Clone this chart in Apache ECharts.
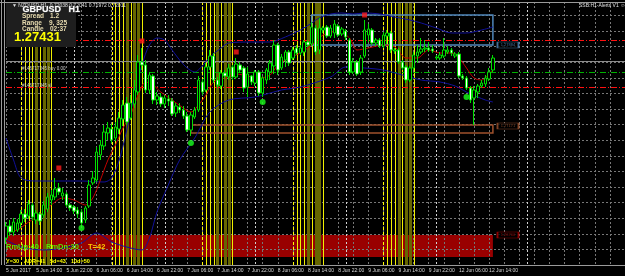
<!DOCTYPE html>
<html><head><meta charset="utf-8">
<script src="https://cdn.jsdelivr.net/npm/echarts@6/dist/echarts.min.js"></script>
<style>html,body{margin:0;padding:0;background:#000;}#c{width:625px;height:276px;}</style>
</head><body><div id="c"></div>
<script>
// ---- data (prices in points, 1 point = 0.00001) ----
const tickLabels = ['5 Jun 2017','5 Jun 14:00','5 Jun 22:00','6 Jun 06:00','6 Jun 14:00','6 Jun 22:00','7 Jun 06:00','7 Jun 14:00','7 Jun 22:00','8 Jun 06:00','8 Jun 14:00','8 Jun 22:00','9 Jun 06:00','9 Jun 14:00','9 Jun 22:00','12 Jun 06:00','12 Jun 14:00'];
// [open, close, low, high]
const candles = [
[71115,71175,71085,71195],[71175,71145,71125,71205],[71145,71195,71125,71215],[71155,71190,71145,71210],
[71190,71235,71165,71255],[71235,71215,71195,71260],[71225,71285,71210,71305],[71280,71220,71200,71290],
[71205,71240,71185,71255],[71235,71200,71180,71245],[71230,71280,71215,71300],[71260,71320,71245,71340],
[71305,71330,71280,71355],[71320,71360,71305,71415],[71365,71345,71330,71390],[71325,71340,71305,71365],
[71335,71280,71270,71345],[71280,71265,71250,71290],[71270,71250,71235,71280],[71255,71235,71215,71270],
[71245,71190,71175,71260],[71205,71265,71190,71275],[71275,71380,71265,71405],[71390,71415,71380,71450],
[71405,71545,71395,71570],[71530,71580,71505,71605],[71575,71645,71555,71680],[71640,71665,71605,71695],
[71660,71605,71590,71685],[71615,71670,71600,71695],[71660,71715,71635,71745],[71710,71780,71675,71805],
[71790,71695,71680,71820],[71715,71790,71705,71830],[71785,71855,71765,71905],[71845,71995,71830,72030],
[71995,71980,71955,72065],[71980,71855,71840,72005],[71855,71930,71835,71945],[71925,71805,71785,71935],
[71805,71825,71780,71845],[71820,71785,71770,71840],[71785,71815,71765,71830],[71810,71800,71775,71830],
[71800,71735,71725,71815],[71740,71775,71720,71790],[71770,71755,71740,71790],[71755,71725,71710,71775],
[71725,71655,71645,71745],[71655,71730,71625,71745],[71720,71755,71710,71770],[71755,71905,71745,71925],
[71895,71845,71830,71910],[71855,71970,71845,71990],[71970,72025,71955,72055],[72025,71905,71890,72040],
[71905,71880,71865,71920],[71875,71940,71860,71955],[71940,71925,71910,71955],[71920,71965,71905,71985],
[71970,71920,71905,71980],[71920,71985,71910,72015],[71980,71955,71940,71995],[71965,71865,71845,71975],
[71870,71935,71820,71970],[71925,71895,71880,71930],[71890,71945,71875,71955],[71945,71840,71825,71955],
[71840,71915,71820,71925],[71905,71955,71885,71965],[71945,71990,71905,72005],[71975,72080,71935,72105],
[72080,71955,71930,72090],[71965,72020,71955,72035],[72005,72045,71970,72055],[72045,71990,71975,72055],
[72015,72055,72005,72070],[72065,72040,72030,72080],[72040,72065,72030,72080],[72045,72095,72025,72105],
[72095,72080,72070,72105],[72085,72170,72075,72195],[72165,72045,72030,72180],[72055,72165,72035,72215],
[72155,72165,72140,72175],[72170,72125,72115,72180],[72125,72165,72115,72180],[72140,72185,72115,72205],
[72175,72130,72120,72185],[72135,72160,72125,72170],[72150,72120,72105,72160],[72105,71945,71930,72115],
[71945,71995,71935,72015],[71995,71935,71925,72005],[71945,72015,71930,72030],[72025,72155,72015,72205],
[72130,72160,72095,72185],[72155,72090,72080,72165],[72090,72105,72075,72115],[72105,72075,72065,72115],
[72075,72130,72065,72145],[72125,72140,72085,72155],[72140,72055,72040,72150],[72050,72055,72035,72065],
[72055,71995,71985,72065],[71995,71965,71955,72005],[71970,71905,71890,71980],[71905,71965,71895,71975],
[71965,72030,71955,72045],[72025,72045,71990,72080],[72045,72060,72035,72115],[72060,72065,72045,72105],
[72065,72055,72045,72095],[72060,72050,72040,72080],[72015,72020,72005,72030],[72015,72030,72005,72045],
[72025,72055,72015,72115],[72045,72055,72035,72075],[72055,72040,72025,72065],[72025,72035,72015,72045],
[72035,71925,71915,72045],[71925,71915,71905,71935],[71915,71865,71855,71925],[71865,71805,71790,71875],
[71815,71855,71680,71875],[71845,71875,71815,71885],[71875,71890,71865,71905],[71885,71915,71870,71930],
[71910,71945,71900,71965],[71955,72015,71945,72030]
];
const upperBand = [[0,71615],[2,71505],[4,71415],[8,71400],[14,71400],[20,71400],[26,71395],[28,71415],[30,71505],[32,71655],[34,71830],[36,71980],[38,72080],[40,72115],[42,72105],[44,72055],[46,72005],[48,71965],[50,71945],[52,71975],[54,72020],[57,72065],[59,72090],[65,72095],[70,72095],[74,72120],[78,72155],[81,72190],[83,72215],[86,72235],[89,72240],[92,72235],[95,72240],[99,72235],[103,72220],[107,72205],[110,72190],[114,72165],[118,72140],[122,72140],[126,72155],[129,72170]];
const lowerBand = [[0,71105],[4,71070],[10,71055],[15,71065],[20,71090],[24,71140],[28,71095],[32,71070],[36,71055],[38,71115],[40,71245],[43,71380],[46,71505],[50,71615],[54,71745],[59,71805],[66,71820],[73,71855],[78,71870],[86,71920],[90,71970],[95,71965],[100,71955],[105,71930],[110,71905],[115,71895],[119,71875],[122,71845],[125,71820],[127,71805],[129,71795]];
const maLine = [[0,71145],[3,71155],[6,71195],[9,71230],[12,71280],[15,71315],[18,71305],[21,71280],[23,71315],[25,71405],[27,71505],[29,71580],[31,71665],[33,71730],[35,71830],[37,71895],[39,71880],[41,71845],[44,71805],[47,71765],[49,71745],[51,71780],[53,71830],[55,71895],[58,71915],[61,71935],[64,71925],[67,71915],[70,71930],[72,71980],[75,72015],[78,72040],[81,72080],[84,72130],[88,72150],[91,72115],[93,72055],[96,72065],[100,72080],[103,72070],[106,72015],[109,72015],[112,72055],[115,72040],[118,72040],[120,72015],[122,71965],[124,71915],[126,71905],[128,71935],[129,71955]];
const redDots = [[14,71465],[36,72100],[61,72045],[95,72230]];
const greenDots = [[20,71165],[49,71590],[68,71795],[122,71820]];
// horizontal levels: [price, kind]
const levels = [[72000,'gray'],[72105,'red'],[71945,'green'],[71870,'red']];
const blueBox = {from:81, to:129, top:72230, bottom:72080};
const brownBox = {from:49, to:129, top:71680, bottom:71640};
const redZone = {from:0, to:129, top:71130, bottom:71020};
const daySeparators = [18,42,66,90,114,138];
const yellowBars = [4,5,6,7,8,9,10,11,12, 28,29,30,31,32,33,34,35,36, 52,53,54,55,56,57,58,59,60, 76,77,78,79,80,81,82,83,84, 100,101,102,103,104,105,106,107,108];
const yellowPattern = 'dyyyoyooy';

const N = 165;
const cats = Array.from({length:N}, (_, i) => 'b' + i);
const FF = '"Liberation Sans", Arial, sans-serif';

const vLines = daySeparators.map(d => [d, 'sep']).concat(yellowBars.map((b, k) => [b, yellowPattern[k % 9]]));
const hStyles = {
  gray: {stroke:'#8c8c8c', lineWidth:1},
  red: {stroke:'#ff1010', lineWidth:1, lineDash:[6,2,1,2]},
  green: {stroke:'#00b000', lineWidth:1, lineDash:[6,2,1,2]}
};

function vLineRender(params, api) {
  const cs = params.coordSys;
  const xr = Math.round(api.coord([api.value(0), 0])[0]);
  const kind = vLines[params.dataIndex][1];
  if (kind === 'sep') {
    return {type:'line', shape:{x1:xr + 0.5, y1:cs.y, x2:xr + 0.5, y2:cs.y + cs.height},
            style:{stroke:'#d0d0d0', lineWidth:1, lineDash:[2,2]}};
  }
  if (kind === 'd') {
    return {type:'line', shape:{x1:xr + 0.5, y1:cs.y, x2:xr + 0.5, y2:cs.y + cs.height},
            style:{stroke:'#ffff00', lineWidth:1, lineDash:[3,2]}};
  }
  if (kind === 'o') {
    return {type:'rect', shape:{x:xr - 1, y:cs.y, width:3, height:cs.height}, style:{fill:'#666600'}};
  }
  return {type:'rect', shape:{x:xr, y:cs.y, width:1, height:cs.height}, style:{fill:'#f0f000'}};
}
function hLineRender(params, api) {
  const cs = params.coordSys;
  const y = Math.round(api.coord([0, api.value(1)])[1]) + 0.5;
  const kind = levels[params.dataIndex][1];
  return {type:'line', shape:{x1:cs.x, y1:y, x2:cs.x + cs.width, y2:y}, style:hStyles[kind]};
}

const chart = echarts.init(document.getElementById('c'), null, {renderer:'canvas'});
chart.setOption({
  animation: false,
  backgroundColor: '#000',
  grid: {left: 6, right: 0, top: 2, bottom: 11, show: false},
  xAxis: {
    type: 'category', data: cats, boundaryGap: false, z: 2,
    axisLine: {show: true, lineStyle: {color: '#9a9a9a', width: 1}},
    axisTick: {show: false},
    axisLabel: {interval: 7, align: 'left', margin: 3, color: '#d8d8d8', fontSize: 5, fontFamily: FF,
      formatter: (v, i) => tickLabels[i / 8] || ''},
    splitLine: {show: true, interval: 3, lineStyle: {color: '#777', width: 1, type: [2, 2]}}
  },
  yAxis: {
    type: 'value', min: 70980, max: 72295, interval: 78, z: 2,
    axisLine: {show: false}, axisTick: {show: false}, axisLabel: {show: false},
    splitLine: {show: true, lineStyle: {color: '#777', width: 1, type: [2, 2]}}
  },
  series: [
    {type: 'line', data: [], silent: true,
     markArea: {silent: true, z: 1, itemStyle: {color: '#990000'},
       data: [[{coord: [redZone.from, redZone.top]}, {coord: [redZone.to, redZone.bottom]}]]}},
    {type: 'custom', z: 3, silent: true, data: vLines.map(v => [v[0], 0]), renderItem: vLineRender,
     encode: {x: 0, y: 1}},
    {type: 'line', data: [], silent: true,
     markArea: {silent: true, z: 4, itemStyle: {color: 'rgba(0,0,0,0)', borderColor: '#4f86ba', borderWidth: 1.5},
       data: [[{coord: [blueBox.from, blueBox.top]}, {coord: [blueBox.to, blueBox.bottom]}]]}},
    {type: 'line', data: [], silent: true,
     markArea: {silent: true, z: 4, itemStyle: {color: 'rgba(0,0,0,0)', borderColor: '#a0522d', borderWidth: 1.5},
       data: [[{coord: [brownBox.from, brownBox.top]}, {coord: [brownBox.to, brownBox.bottom]}]]}},
    {type: 'custom', z: 4, silent: true, data: levels.map(l => [0, l[0]]), renderItem: hLineRender,
     encode: {x: 0, y: 1}},
    {type: 'line', data: upperBand, smooth: 0.3, symbol: 'none', z: 5, silent: true, lineStyle: {color: '#10109a', width: 1}},
    {type: 'line', data: lowerBand, smooth: 0.3, symbol: 'none', z: 5, silent: true, lineStyle: {color: '#10109a', width: 1}},
    {type: 'line', data: maLine, smooth: 0.3, symbol: 'none', z: 5, silent: true, lineStyle: {color: '#c40000', width: 1}},
    {type: 'candlestick', data: candles, z: 6, barWidth: 3,
     itemStyle: {color: '#000000', color0: '#ffffff', borderColor: '#00e000', borderColor0: '#00e000', borderWidth: 1}},
    {type: 'scatter', data: redDots, z: 7, symbol: 'rect', symbolSize: 5, itemStyle: {color: '#ff1a1a'}},
    {type: 'scatter', data: greenDots, z: 7, symbol: 'circle', symbolSize: 6, itemStyle: {color: '#19ff19'}},
    {type: 'scatter', z: 8, silent: true, symbol: 'rect', symbolSize: [21, 6],
     data: [
       {value: [133, blueBox.bottom], itemStyle: {color: '#000', borderColor: '#4f86ba', borderWidth: 1},
        label: {show: true, position: 'inside', formatter: '1.27884', color: '#4f86ba', fontSize: 4, fontFamily: FF}},
       {value: [133, brownBox.top - 5], itemStyle: {color: '#000', borderColor: '#a0522d', borderWidth: 1},
        label: {show: true, position: 'inside', formatter: '1.27171', color: '#a0522d', fontSize: 4, fontFamily: FF}},
       {value: [133, redZone.top], itemStyle: {color: '#000', borderColor: '#b00000', borderWidth: 1},
        label: {show: true, position: 'inside', formatter: '1.26700', color: '#b00000', fontSize: 4, fontFamily: FF}}
     ]}
  ],
  graphic: [
    {type: 'line', z: 9, shape: {x1: 1.5, y1: 0, x2: 1.5, y2: 265}, style: {stroke: '#9a9a9a', lineWidth: 1}},
    {type: 'line', z: 9, shape: {x1: 4.5, y1: 0, x2: 4.5, y2: 265}, style: {stroke: '#9a9a9a', lineWidth: 1}},
    {type: 'line', z: 9, shape: {x1: 0, y1: 2.5, x2: 625, y2: 2.5}, style: {stroke: '#9a9a9a', lineWidth: 1}},
    {type: 'rect', z: 9, shape: {x: 6, y: 3, width: 70, height: 44}, style: {fill: '#1e1e1e'}},
    {type: 'text', z: 10, left: 12, top: 3, style: {text: '▼ NZDUSD,H1  0.72038 0.72041 0.71972 0.72011', fill: '#e0e0e0', font: '5px ' + FF}},
    {type: 'text', z: 10, left: 22, top: 4.5, style: {text: 'GBPUSD   H1', fill: '#ffffff', stroke: '#555', lineWidth: 1, font: 'bold 9px ' + FF}},
    {type: 'text', z: 10, left: 22, top: 13, style: {text: 'Spread', fill: '#e8dcb0', font: 'bold 6.5px ' + FF}},
    {type: 'text', z: 10, left: 50, top: 13, style: {text: '1.2', fill: '#e8dcb0', font: 'bold 6.5px ' + FF}},
    {type: 'text', z: 10, left: 22, top: 19.5, style: {text: 'Range', fill: '#e8dcb0', font: 'bold 6.5px ' + FF}},
    {type: 'text', z: 10, left: 49, top: 19.5, style: {text: '9, 325', fill: '#e8dcb0', font: 'bold 6.5px ' + FF}},
    {type: 'text', z: 10, left: 22, top: 26, style: {text: 'Candle', fill: '#e8dcb0', font: 'bold 6.5px ' + FF}},
    {type: 'text', z: 10, left: 50, top: 26, style: {text: '02:37', fill: '#e8dcb0', font: 'bold 6.5px ' + FF}},
    {type: 'text', z: 10, left: 14, top: 31, style: {text: '1.27431', fill: '#ffff00', font: 'bold 13px ' + FF}},
    {type: 'text', z: 10, left: 579, top: 3, style: {text: 'SSB:H1-Alerts V1 ☺', fill: '#e0e0e0', font: '5px ' + FF}},
    {type: 'text', z: 10, left: 22, top: 66, style: {text: '#146717345 buy 0.00', fill: '#cfcfcf', font: '4.5px ' + FF}},
    {type: 'text', z: 10, left: 22, top: 83, style: {text: '#146717345 sl', fill: '#cfcfcf', font: '4.5px ' + FF}},
    {type: 'text', z: 10, left: 6, top: 243, style: {text: 'RmUp:40', fill: '#55ee00', font: 'bold 7.5px ' + FF}},
    {type: 'text', z: 10, left: 46, top: 243, style: {text: 'RmDn:30', fill: '#55ee00', font: 'bold 7.5px ' + FF}},
    {type: 'text', z: 10, left: 88, top: 243, style: {text: 'T=42', fill: '#ffcc00', font: 'bold 7.5px ' + FF}},
    {type: 'text', z: 10, left: 6, top: 258, style: {text: 'Y=30', fill: '#ffff00', font: 'bold 5.5px ' + FF}},
    {type: 'text', z: 10, left: 24, top: 258, style: {text: 'ADR=41', fill: '#ffff00', font: 'bold 5.5px ' + FF}},
    {type: 'text', z: 10, left: 50, top: 258, style: {text: '5d=43', fill: '#ffff00', font: 'bold 5.5px ' + FF}},
    {type: 'text', z: 10, left: 71, top: 258, style: {text: '10d=50', fill: '#ffff00', font: 'bold 5.5px ' + FF}}
  ]
});
</script></body></html>
